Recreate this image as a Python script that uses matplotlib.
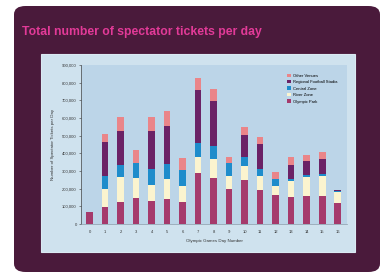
import matplotlib.pyplot as plt
from matplotlib.patches import FancyBboxPatch, Rectangle
import numpy as np

days = list(range(17))
olympic_park = [70, 94, 122, 147, 128, 141, 122, 288, 260, 198, 250, 190, 166, 153, 160, 160, 119]
river_zone = [0, 104, 145, 113, 94, 115, 95, 94, 109, 71, 76, 79, 47, 88, 104, 109, 60]
central_zone = [0, 71, 68, 88, 89, 83, 90, 79, 74, 76, 53, 42, 41, 13, 11, 13, 8]
football = [0, 194, 192, 0, 216, 218, 0, 298, 254, 0, 122, 141, 0, 81, 79, 85, 5]
other_venues = [0, 45, 81, 72, 81, 85, 66, 66, 66, 37, 47, 38, 40, 44, 38, 43, 0]

series = [
    ("Olympic Park", olympic_park, "#a53a6c"),
    ("River Zone", river_zone, "#fbf4cf"),
    ("Central Zone", central_zone, "#1e8ccb"),
    ("Regional Football Stadia", football, "#6b2266"),
    ("Other Venues", other_venues, "#ea8589"),
]

plt.rcParams['font.family'] = ['Liberation Sans', 'DejaVu Sans']

W, H = 386, 278
fig = plt.figure(figsize=(W / 100, H / 100), dpi=100)
fig.patch.set_facecolor("white")

# dark plum card
fig.patches.append(FancyBboxPatch(
    (14 / W, 1 - 272 / H), 366 / W, 266 / H,
    boxstyle="round,pad=0,rounding_size=0.03",
    transform=fig.transFigure, facecolor="#4a1a3b", edgecolor="none", zorder=0))
# light panel
fig.patches.append(Rectangle(
    (41 / W, 1 - 252 / H), 314 / W, 198 / H,
    transform=fig.transFigure, facecolor="#cfe2ee", edgecolor="#dbe9f2",
    linewidth=0.8, zorder=1))

fig.text(22 / W, 1 - 32 / H, "Total number of spectator tickets per day",
         color="#e23a98", fontsize=8.8, fontweight="bold", va="center", ha="left")

ax = fig.add_axes([81 / W, 1 - 224 / H, 266 / W, 159 / H])
ax.set_zorder(3)
ax.set_facecolor("#bcd5e8")

x = np.array(days)
bottom = np.zeros(len(days))
handles = []
for name, vals, col in series:
    v = np.array(vals) * 1000
    b = ax.bar(x, v, width=0.43, bottom=bottom, color=col, label=name, zorder=2)
    handles.append(b)
    bottom += v

ax.set_xlim(-0.55, 16.6)
ax.set_ylim(0, 900000)
ax.set_yticks(np.arange(0, 900001, 100000))
ax.set_yticklabels(["{:,}".format(v) for v in range(0, 900001, 100000)])
ax.set_xticks(days)
ax.tick_params(labelsize=3, colors="#333333", length=1.5, width=0.4, pad=1.5)
ax.tick_params(axis="x", length=0, pad=4)
for s in ["top", "right"]:
    ax.spines[s].set_visible(False)
ax.spines["left"].set_linewidth(0.5)
ax.spines["left"].set_color("#444444")
ax.spines["bottom"].set_linewidth(0.5)
ax.spines["bottom"].set_color("#8a9aa8")

ax.set_xlabel("Olympic Games Day Number", fontsize=3.2, color="#333333", labelpad=4)
ax.set_ylabel("Number of Spectator Tickets per Day", fontsize=3.2, color="#333333", labelpad=5)

leg = ax.legend(handles[::-1], [s[0] for s in series][::-1], loc="upper left",
                bbox_to_anchor=(0.76, 0.97), fontsize=3, frameon=False,
                handlelength=0.9, handleheight=0.9, labelspacing=0.55, handletextpad=0.6)

fig.savefig("out.png", dpi=100, facecolor=fig.get_facecolor())
